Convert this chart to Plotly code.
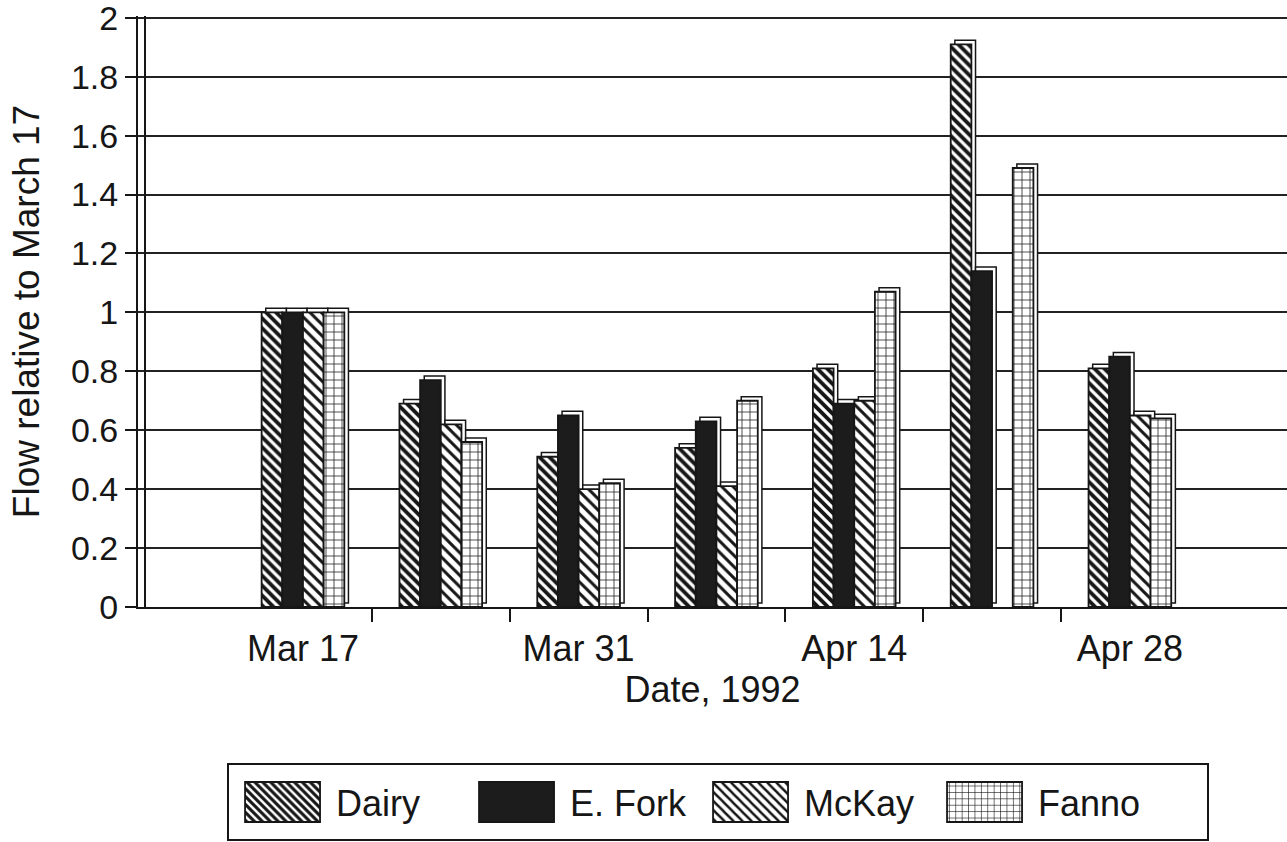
import plotly.graph_objects as go

dates = ["Mar 17", "Mar 24", "Mar 31", "Apr 7", "Apr 14", "Apr 21", "Apr 28"]
dairy = [1.00, 0.69, 0.51, 0.54, 0.81, 1.91, 0.81]
efork = [1.00, 0.77, 0.65, 0.63, 0.69, 1.14, 0.85]
mckay = [1.00, 0.62, 0.40, 0.41, 0.70, None, 0.65]
fanno = [1.00, 0.56, 0.42, 0.70, 1.07, 1.49, 0.64]

y_tick_vals = [0, 0.2, 0.4, 0.6, 0.8, 1.0, 1.2, 1.4, 1.6, 1.8, 2.0]
y_tick_text = ["0", "0.2", "0.4", "0.6", "0.8", "1", "1.2", "1.4", "1.6", "1.8", "2"]

x_idx = list(range(len(dates)))
label_idx = x_idx[::2]
label_txt = dates[::2]
boundaries = [i + 0.5 for i in x_idx[:-1]]

FONT = "Liberation Sans, Arial, sans-serif"
INK = "#161616"

series = [
    ("Dairy", dairy, dict(color="white", pattern=dict(shape="\\", size=7, solidity=0.55, fgcolor=INK, bgcolor="white", fillmode="replace"))),
    ("E. Fork", efork, dict(color="#1c1c1c")),
    ("McKay", mckay, dict(color="white", pattern=dict(shape="\\", size=8, solidity=0.38, fgcolor=INK, bgcolor="white", fillmode="replace"))),
    ("Fanno", fanno, dict(color="white", pattern=dict(shape="+", size=8, solidity=0.18, fgcolor=INK, bgcolor="white", fillmode="replace"))),
]

BAR_W = 0.15
DEPTH_X = 0.03
DEPTH_Y = 0.014
Y_TOP = 2.006

fig = go.Figure()
n = len(series)
for k, (name, vals, mk) in enumerate(series):
    off = -BAR_W * n / 2 + BAR_W * k
    # 3-D depth (side and top faces)
    fig.add_trace(go.Bar(
        name=name, x=x_idx, y=vals, base=DEPTH_Y, width=BAR_W, offset=off + DEPTH_X,
        marker=dict(color="white", line=dict(color=INK, width=1.5)),
        showlegend=False, hoverinfo="skip"))
    mk = dict(mk)
    mk["line"] = dict(color=INK, width=1.8)
    fig.add_trace(go.Bar(name=name, x=x_idx, y=vals, width=BAR_W, offset=off, marker=mk))

# empty helper trace so the inner "wall" axis line is drawn
fig.add_trace(go.Scatter(x=[None], y=[None], yaxis="y2", showlegend=False, hoverinfo="skip"))

fig.update_layout(
    template="none",
    width=1287, height=842,
    margin=dict(l=138, r=0, t=16, b=235, autoexpand=False),
    paper_bgcolor="white", plot_bgcolor="white",
    barmode="overlay",
    font=dict(family=FONT, size=36, color=INK),
    xaxis=dict(
        automargin=False,
        range=[-1.197, 7.14],
        tickmode="array", tickvals=label_idx, ticktext=label_txt,
        ticks="", showgrid=False, zeroline=False, ticklabelstandoff=9,
        showline=True, linecolor=INK, linewidth=2,
        tickfont=dict(size=36), ticklabeloverflow="allow",
        minor=dict(tickmode="array", tickvals=boundaries, ticks="outside",
                   ticklen=13, tickwidth=2, tickcolor=INK, showgrid=False),
        title=dict(text="Date, 1992", font=dict(size=36), standoff=6),
    ),
    yaxis=dict(
        automargin=False,
        range=[0, Y_TOP], tickmode="array", tickvals=y_tick_vals, ticktext=y_tick_text,
        ticks="outside", ticklen=11, tickwidth=2, tickcolor=INK,
        showgrid=True, gridcolor="#222222", gridwidth=1.6,
        zeroline=False, showline=True, linecolor=INK, linewidth=2,
        tickfont=dict(size=34), ticklabeloverflow="allow",
        title=dict(text="Flow relative to March 17", font=dict(size=37), standoff=20),
    ),
    yaxis2=dict(
        automargin=False,
        overlaying="y", anchor="free", position=0.006, side="left",
        range=[0, Y_TOP], showline=True, linecolor=INK, linewidth=1.5,
        showticklabels=False, ticks="", showgrid=False, zeroline=False,
    ),
    legend=dict(
        orientation="h", x=0.0775, xanchor="left", y=-0.276, yanchor="top",
        bordercolor=INK, borderwidth=2, bgcolor="white",
        font=dict(size=36), itemwidth=97, entrywidth=122, traceorder="normal",
    ),
)

post = """
document.body.style.margin = '0';
document.body.style.overflow = 'hidden';
var gd = document.getElementById('{plot_id}');
function restyleLegend(){
  gd.querySelectorAll('.legend .legendpoints path').forEach(function(p){
    p.setAttribute('d','M37.5,20H-37.5V-20H37.5Z');
  });
  var bg = gd.querySelector('.legend rect.bg');
  if (bg && !bg.dataset.wide) {
    bg.dataset.wide = '1';
    bg.setAttribute('width', 980);
    var h = parseFloat(bg.getAttribute('height'));
    var y = parseFloat(bg.getAttribute('y') || 0);
    bg.setAttribute('height', h + 14);
    bg.setAttribute('y', y - 7);
  }
}
restyleLegend();
gd.on('plotly_afterplot', restyleLegend);
"""

fig.write_html("out.html", post_script=post, config={"displayModeBar": False})
